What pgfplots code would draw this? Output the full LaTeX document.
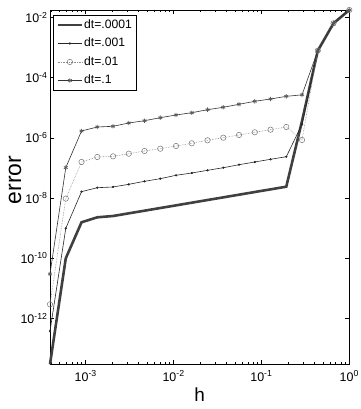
\documentclass[border=0pt]{standalone}
\usepackage{pgfplots}
\pgfplotsset{compat=1.18}
\usepackage{pgfplotstable}
\usepackage{fontspec}
\setmainfont{Liberation Sans}
\pgfplotstableread{
h a b c d
3.917e-4 2.951e-14 3.715e-13 2.917e-12 2.972e-11
5.924e-4 9.886e-11 9.817e-10 9.550e-9 1.023e-7
8.953e-4 1.556e-9 1.622e-8 1.574e-7 1.690e-6
1.3527e-3 2.280e-9 2.198e-8 2.307e-7 2.296e-6
2.0445e-3 2.518e-9 2.323e-8 2.432e-7 2.421e-6
3.0885e-3 3.090e-9 2.851e-8 2.972e-7 3.119e-6
4.668e-3 3.784e-9 3.589e-8 3.656e-7 3.715e-6
7.054e-3 4.645e-9 4.385e-8 4.355e-7 4.677e-6
0.010659 5.689e-9 5.689e-8 5.358e-7 5.754e-6
0.016106 6.982e-9 6.776e-8 6.592e-7 6.855e-6
0.024343 8.570e-9 8.337e-8 8.279e-7 8.630e-6
0.03679 1.050e-8 1.016e-7 1.012e-6 1.038e-5
0.05557 1.288e-8 1.279e-7 1.245e-6 1.306e-5
0.08398 1.581e-8 1.574e-7 1.531e-6 1.641e-5
0.12691 1.936e-8 1.936e-7 1.866e-6 1.959e-5
0.19176 2.377e-8 2.360e-7 2.296e-6 2.399e-5
0.28974 3.631e-6 2.818e-6 8.492e-7 2.692e-5
0.43786 7.907e-4 7.907e-4 7.907e-4 7.907e-4
0.66160 6.442e-3 6.442e-3 6.442e-3 6.442e-3
1 1.782e-2 1.782e-2 1.782e-2 1.782e-2
}\errdata
\begin{document}
\begin{tikzpicture}
\begin{axis}[
  name=ax,
  scale only axis,
  width=299.3bp, height=354.3bp,
  xmode=log, ymode=log,
  xmin=3.917e-4, xmax=1,
  ymin=2.951e-14, ymax=1.782e-2,
  clip=false,
  axis line style={black, line width=0.7bp},
  tick style={black, line width=0.55bp},
  major tick length=4bp,
  minor tick length=2.2bp,
  tick align=inside,
  xtick={1e-3,1e-2,1e-1,1},
  xticklabels={10\textsuperscript{-3},10\textsuperscript{-2},10\textsuperscript{-1},10\textsuperscript{0}},
  minor xtick={4e-4,5e-4,6e-4,7e-4,8e-4,9e-4,2e-3,3e-3,4e-3,5e-3,6e-3,7e-3,8e-3,9e-3,2e-2,3e-2,4e-2,5e-2,6e-2,7e-2,8e-2,9e-2,2e-1,3e-1,4e-1,5e-1,6e-1,7e-1,8e-1,9e-1},
  ytick={1e-12,1e-10,1e-8,1e-6,1e-4,1e-2},
  yticklabels={10\textsuperscript{-12},10\textsuperscript{-10},10\textsuperscript{-8},10\textsuperscript{-6},10\textsuperscript{-4},10\textsuperscript{-2}},
  minor ytick={},
  ticklabel style={font=\fontsize{12.5}{13}\selectfont},
  xticklabel style={yshift=-3bp},
  yticklabel style={xshift=1bp},
  xlabel={h},
  ylabel={error},
  xlabel style={font=\fontsize{19}{20}\selectfont, at={(axis description cs:0.5,-0.087)}, anchor=center},
  ylabel style={font=\fontsize{23}{24}\selectfont, at={(axis description cs:-0.117,0.52)}, anchor=center, rotate=0},
  legend style={at={(0.011,0.986)}, anchor=north west, draw=black, line width=0.5bp,
    font=\fontsize{12.2}{13}\selectfont, inner sep=3bp, row sep=5bp,
    nodes={text height=9bp, text depth=2.5bp, inner sep=1bp}},
  legend cell align=left,
  legend image code/.code={\draw[mark repeat=2,mark phase=2,#1] plot coordinates {(0bp,0bp) (12bp,0bp) (24bp,0bp)};},
]
\addplot[color=black!75, line width=2.6bp] table[x=h, y=a] {\errdata};
\addlegendentry{dt=.0001}
\addplot[color=black!85, line width=0.6bp, mark=*, mark size=0.8bp, mark options={fill=black!85}] table[x=h, y=b] {\errdata};
\addlegendentry{dt=.001}
\addplot[color=black!45, line width=0.6bp, densely dotted, mark=o, mark size=2.7bp, mark options={solid, black!55, line width=0.5bp}] table[x=h, y=c] {\errdata};
\addlegendentry{dt=.01}
\addplot[color=black!80, line width=0.6bp, mark=asterisk, mark size=2.2bp, mark options={black!65, line width=0.7bp}] table[x=h, y=d] {\errdata};
\addlegendentry{dt=.1}
\end{axis}
\pgfresetboundingbox
\path ([xshift=-50bp,yshift=-44.7bp]ax.south west) rectangle ([xshift=11.7bp,yshift=10bp]ax.north east);
\end{tikzpicture}
\end{document}
